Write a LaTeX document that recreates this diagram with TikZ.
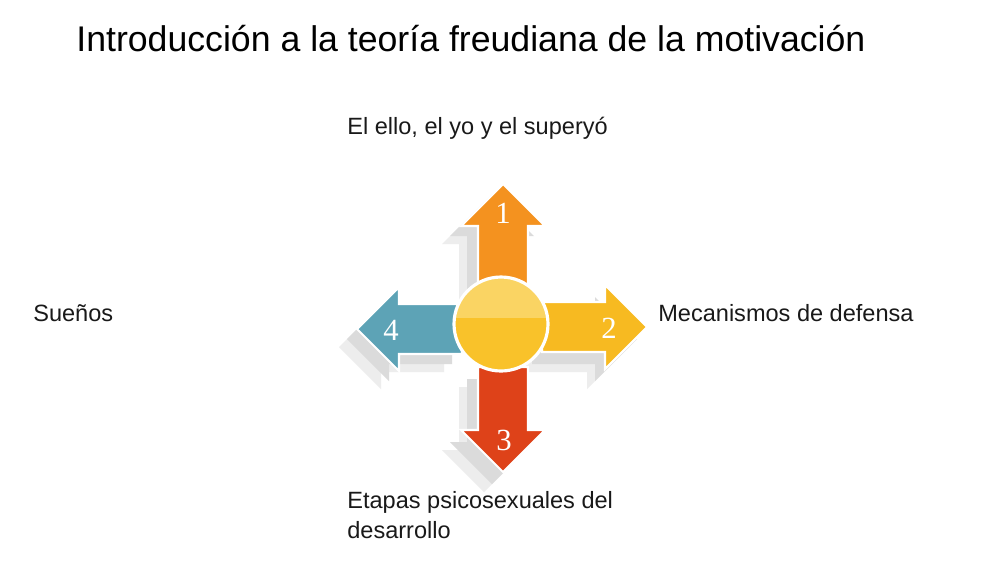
\documentclass[tikz,border=0pt]{standalone}
\usepackage{fontspec}
\setmainfont{Liberation Sans}
\newfontfamily\digitfont{Liberation Serif}
\usepackage{tikz}
\usetikzlibrary{calc}
\definecolor{arrowone}{HTML}{F4921F}
\definecolor{arrowtwo}{HTML}{F7BA21}
\definecolor{arrowthree}{HTML}{DE4219}
\definecolor{arrowfour}{HTML}{5DA3B6}
\definecolor{hubtop}{HTML}{FAD463}
\definecolor{hubbottom}{HTML}{F9C22A}
\def\crossarrow[#1](#2:#3){\path[#1,shift={(#2)},rotate=#3] (40,-25) -- (103,-25) -- (103,-42) -- (145,0) -- (103,42) -- (103,25) -- (40,25) -- cycle;}

\begin{document}
\begin{tikzpicture}[x=0.02cm,y=-0.02cm,
	label/.style={anchor=base west,inner sep=0pt,font=\fontsize{13.4}{17}\selectfont,text=black!90},
	digit/.style={font=\digitfont\fontsize{17.5}{20}\selectfont,text=white},
	shade/.style={fill=black!#1},
	arrowbody/.style={fill=#1,draw=white,line width=1.2pt,line join=miter}]
			%%%%% START %%%%%
			
			\useasboundingbox[fill=white] (0,0) rectangle (1000,562);
			
			\node[anchor=base west,inner sep=0pt,font=\fontsize{20.3}{24}\selectfont] (title) at (76,51) {Introducción a la teoría freudiana de la motivación};
			
			% cast shadows, two layers
			\crossarrow[shade=7](484,347:90);
			\crossarrow[shade=7](484,347:0);
			\crossarrow[shade=7](484,347:270);
			\crossarrow[shade=7](484,347:180);
			\crossarrow[shade=14](492,339:90);
			\crossarrow[shade=14](492,339:0);
			\crossarrow[shade=14](492,339:270);
			\crossarrow[shade=14](492,339:180);
			
			% arrows
			\crossarrow[arrowbody=arrowfour](502,329:180);
			\crossarrow[arrowbody=arrowthree](503,327:270);
			\crossarrow[arrowbody=arrowtwo](502,327:0);
			\crossarrow[arrowbody=arrowone](503,329:90);
			
			% hub
			\fill[hubbottom] (501,324) circle (47);
			\begin{scope}
				\clip (501,324) circle (47);
				\fill[hubtop] (450,275) rectangle (552,318);
			\end{scope}
			\draw[white,line width=1.8pt] (501,324) circle (47);
			
			\node[digit] (n1) at (503,213) {1};
			\node[digit] (n2) at (609,328) {2};
			\node[digit] (n3) at (504,440) {3};
			\node[digit] (n4) at (391,330) {4};
			
			\node[label] (ello) at (347,134) {El ello, el yo y el superyó};
			\node[label] (suenos) at (33,321) {Sueños};
			\node[label] (defensa) at (658,321) {Mecanismos de defensa};
			\node[label,align=left] (etapas) at (347,538) {Etapas psicosexuales del\\desarrollo};
			
			%%%%% END %%%%%
		\end{tikzpicture}
\end{document}
